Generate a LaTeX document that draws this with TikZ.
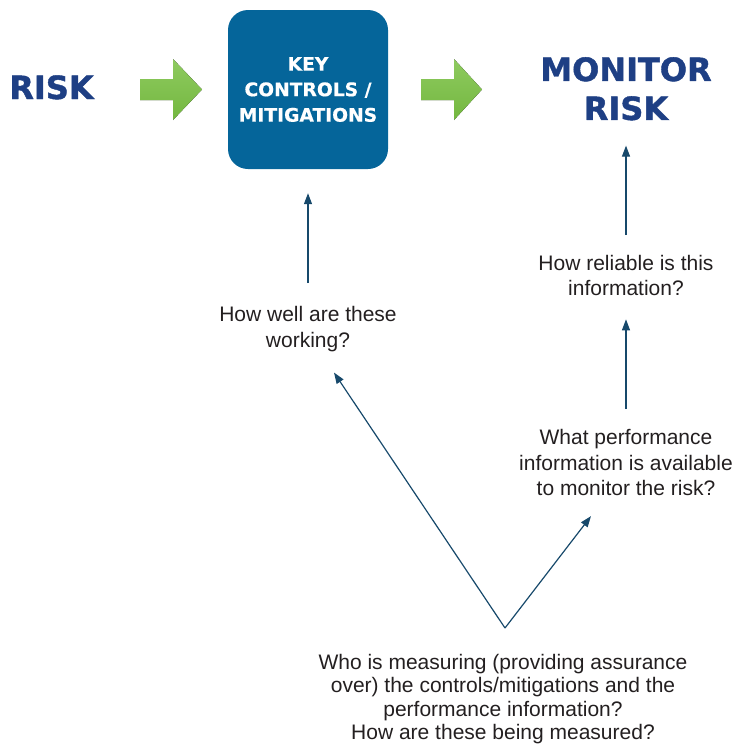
\documentclass[tikz,border=0pt]{standalone}
\usepackage{fontspec}
\setmainfont{Liberation Sans}
\newfontfamily\headfont{DejaVu Sans}[BoldFeatures={FakeBold=1.3}]
\newfontfamily\boxfont{DejaVu Sans}[BoldFeatures={FakeBold=0.6}]
\usetikzlibrary{arrows.meta}
\definecolor{txt}{HTML}{231F20}
\definecolor{headblue}{HTML}{1E3F84}
\definecolor{boxblue}{HTML}{05659A}
\definecolor{arrgreen}{HTML}{7AC143}
\definecolor{conncol}{HTML}{17496B}
\begin{document}
\begin{tikzpicture}[x=1pt,y=-1pt,
  body/.style={font={\fontsize{21}{25.5}\selectfont}, text=txt, align=center, inner sep=0pt},
  heading/.style={font={\headfont\bfseries\fontsize{32}{39}\selectfont}, text=headblue, align=center, inner sep=0pt},
  ctrlbox/.style={fill=boxblue, rounded corners=20pt, minimum width=160pt, minimum height=159pt, inner sep=0pt, text=white, align=center, font={\boxfont\bfseries\fontsize{18.7}{25.5}\selectfont}},
  blockarrow/.style={top color=arrgreen!85!white, bottom color=arrgreen!95!black},
  conn/.style={draw=conncol, line width=1.2pt, -{Triangle[length=11pt,width=8pt]}}]
\useasboundingbox (0,0) rectangle (736,748);
\node[heading, anchor=base] (risk) at (51.5,99) {RISK};
\node[ctrlbox] (box) at (308,89.5) {KEY\\CONTROLS /\\MITIGATIONS};
\node[heading, anchor=north] (mon) at (626,57) {MONITOR\\RISK};
\node[body, anchor=north] (hw) at (308,306.5) {How well are these\\working?};
\node[body, anchor=north] (rel) at (626,255) {How reliable is this\\information?};
\node[body, anchor=north] (perf) at (626,429.3) {What performance\\information is available\\to monitor the risk?};
\node[body, anchor=north, font={\fontsize{21}{23.4}\selectfont}] (who) at (503,654) {Who is measuring (providing assurance\\over) the controls/mitigations and the\\performance information?\\How are these being measured?};
% green block arrows
\fill[blockarrow] (140,79) -- (173,79) -- (173,59) -- (202,89.5) -- (173,120) -- (173,100) -- (140,100) -- cycle;
\fill[blockarrow] (421,79) -- (454,79) -- (454,59) -- (482,89.5) -- (454,120) -- (454,100) -- (421,100) -- cycle;
% connectors
\draw[conn] ([yshift=23.5pt]hw.north) -- ([yshift=-24pt]box.south);
\draw[conn] ([yshift=20pt]rel.north) -- ([yshift=-25pt]mon.south);
\draw[conn] ([yshift=20.3pt]perf.north) -- ([yshift=-23pt]rel.south);
\coordinate (v) at ([xshift=2pt,yshift=26pt]who.north);
\draw[conn] (v) -- ([xshift=26pt,yshift=-20.6pt]hw.south);
\draw[conn] (v) -- ([xshift=-35pt,yshift=-20pt]perf.south);
\end{tikzpicture}
\end{document}
